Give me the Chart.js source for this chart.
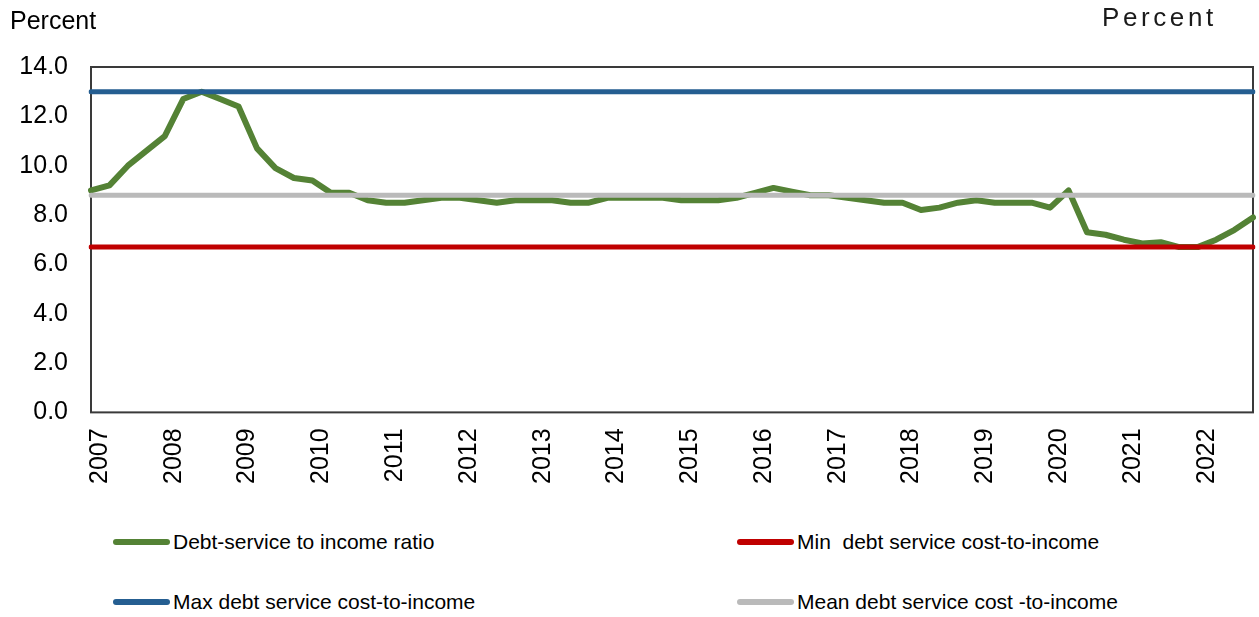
<!DOCTYPE html>
<html>
<head>
<meta charset="utf-8">
<script src="https://cdn.jsdelivr.net/npm/chart.js@4/dist/chart.umd.min.js"></script>
<style>
  body { margin: 0; background: #fff; font-family: "Liberation Sans", Arial, sans-serif; }
  #wrap { position: relative; width: 1259px; height: 617px; }
  #box { position: absolute; left: 0; top: 0; width: 1259px; height: 500px; }
  #unit { position: absolute; left: 1102px; top: 2px; font-size: 26px; letter-spacing: 3.6px; color: #1a1a1a; }
  #legend { position: absolute; left: 113px; top: 527px; display: grid;
    grid-template-columns: 624px 500px; row-gap: 31px; font-size: 21px; color: #000; }
  .item { display: flex; align-items: center; height: 29px; white-space: pre; }
  .swatch { width: 57px; height: 6px; border-radius: 3px; margin-right: 3px; }
</style>
</head>
<body>
<div id="wrap">
  <div id="box"><canvas id="chart"></canvas></div>
  <div id="unit">Percent</div>
  <div id="legend"></div>
</div>
<script>
// DATA (quarterly, 2007Q1 - 2022Q4)
const years = ["2007", "2008", "2009", "2010", "2011", "2012", "2013", "2014",
  "2015", "2016", "2017", "2018", "2019", "2020", "2021", "2022"];
const debtServiceRatio = [
  9.0, 9.2, 10.0, 10.6, 11.2, 12.7, 13.0, 12.7,
  12.4, 10.7, 9.9, 9.5, 9.4, 8.9, 8.9, 8.6,
  8.5, 8.5, 8.6, 8.7, 8.7, 8.6, 8.5, 8.6,
  8.6, 8.6, 8.5, 8.5, 8.7, 8.7, 8.7, 8.7,
  8.6, 8.6, 8.6, 8.7, 8.9, 9.1, 8.95, 8.8,
  8.8, 8.7, 8.6, 8.5, 8.5, 8.2, 8.3, 8.5,
  8.6, 8.5, 8.5, 8.5, 8.3, 9.0, 7.3, 7.2,
  7.0, 6.85, 6.9, 6.7, 6.7, 7.0, 7.4, 7.9
];
const maxRatio = 13.0;
const minRatio = 6.7;
const meanRatio = 8.8;
const yTicks = [0, 2, 4, 6, 8, 10, 12, 14];

// one label per quarter, year shown on Q1
const labels = [];
years.forEach((y) => labels.push(y, "", "", ""));
const flat = (v) => labels.map(() => v);

const canvasChart = document.getElementById("chart");
const legendBox = document.getElementById("legend");

// frame round the plot area
const frame = {
  id: "frame",
  beforeDatasetsDraw(chart) {
    const { ctx, chartArea: a } = chart;
    ctx.save();
    ctx.strokeStyle = "#3a3a3a";
    ctx.lineWidth = 2;
    ctx.strokeRect(a.left, a.top, a.right - a.left, a.bottom - a.top);
    ctx.restore();
  },
};

const line = (label, data, color, width, order) => ({
  label, data, borderColor: color, backgroundColor: color,
  borderWidth: width, pointRadius: 0, tension: 0,
  borderCapStyle: "round", borderJoinStyle: "round", order,
});

const chart = new Chart(canvasChart, {
  type: "line",
  data: {
    labels: labels,
    datasets: [
      line("Debt-service to income ratio", debtServiceRatio, "#548235", 6, 5),
      line("Min  debt service cost-to-income", flat(minRatio), "#C00000", 5, 1),
      line("Max debt service cost-to-income", flat(maxRatio), "#255E91", 5, 2),
      line("Mean debt service cost -to-income", flat(meanRatio), "#BABABA", 5, 3),
    ],
  },
  options: {
    responsive: true,
    maintainAspectRatio: false,
    animation: false,
    layout: { padding: { left: 10, right: 6, bottom: 0 } },
    plugins: {
      legend: { display: false },
      tooltip: { enabled: false },
      title: {
        display: true, text: "Percent", align: "start", color: "#000",
        font: { family: "Liberation Sans", size: 25, weight: "normal" },
        padding: { top: 7, bottom: 30 },
      },
    },
    scales: {
      x: {
        afterFit: (s) => { s.paddingLeft = 0; s.paddingRight = 0; },
        grid: { display: false, drawTicks: false },
        border: { display: false },
        ticks: {
          autoSkip: false, maxRotation: 90, minRotation: 90, padding: 16,
          labelOffset: 9,
          color: "#000", font: { family: "Liberation Sans", size: 25 },
        },
      },
      y: {
        min: 0, max: 14,
        afterBuildTicks: (s) => { s.ticks = yTicks.map((v) => ({ value: v })); },
        afterFit: (s) => { s.width = 81; },
        grid: { display: false, drawTicks: false },
        border: { display: false },
        ticks: {
          padding: 23, color: "#000",
          font: { family: "Liberation Sans", size: 25 },
          callback: (v) => v.toFixed(1),
        },
      },
    },
  },
  plugins: [frame],
});

// HTML legend in two columns
let html = "";
chart.data.datasets.forEach((ds) => {
  html += `<div class="item"><span class="swatch" style="background:${ds.borderColor}"></span>${ds.label}</div>`;
});
legendBox.innerHTML = html;
</script>
</body>
</html>
